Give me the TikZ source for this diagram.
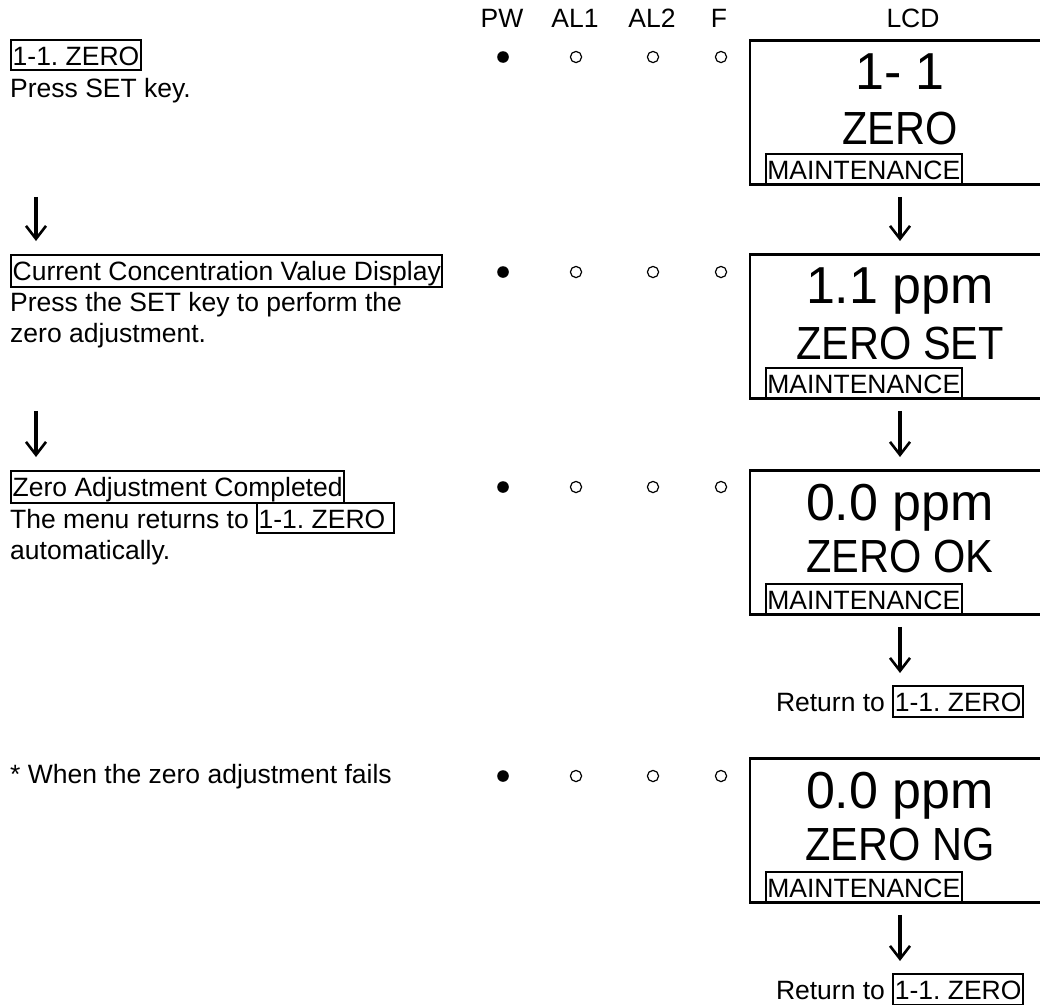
\documentclass[tikz,border=0pt]{standalone}
\usepackage{fontspec}
\setmainfont{Liberation Sans}
\usetikzlibrary{arrows.meta}

\newcommand\menubox[1]{{\setlength\fboxsep{0.5pt}\setlength\fboxrule{2pt}\fbox{\rule[-3.5pt]{0pt}{27.5pt}#1}}}

\tikzset{
  txt/.style={anchor=base west, inner sep=0pt, font=\fontsize{26.5}{32}\selectfont},
  lcdbox/.style={draw, line width=2.8pt, minimum width=300pt, minimum height=144pt, anchor=north, inner sep=0pt},
  lcdbig/.style={anchor=base, inner sep=0pt, font=\fontsize{52}{60}\selectfont},
  lcdmid/.style={anchor=base, inner sep=0pt, font=\fontsize{41.5}{48}\selectfont},
  flowarrow/.style={line width=3.2pt, -{Straight Barb[length=13pt,width=20pt,line width=2.6pt]}, shorten <=11pt, shorten >=12pt},
}

\begin{document}
\frenchspacing
\begin{tikzpicture}[x=1pt, y=-1pt]
    \useasboundingbox (0,0) rectangle (1040,1004);
    % column heads
    \foreach \x/\lbl in {502/PW, 575/AL1, 652/AL2, 719/F, 913/LCD}{
      \node[txt, anchor=base] (h\lbl) at (\x, 27) {\lbl};
    }
    % lamps
    \foreach \y in {57, 272, 487, 776}{
      \fill (503, \y) circle(5.8pt);
      \foreach \x in {576, 653, 721}{
        \draw[line width=1.2pt] (\x, \y) circle(5.6pt);
      }
    }
    % left column
    \node[txt] (zerohead) at (10, 65) {\menubox{1-1. ZERO}};
    \node[txt] (zerokey) at (10, 97) {Press SET key.};
    \node[txt] (curhead) at (10, 280) {\menubox{Current Concentration Value Display}};
    \node[txt] (curkey) at (10, 311) {Press the SET key to perform the};
    \node[txt] (curadj) at (10, 342) {zero adjustment.};
    \node[txt] (okhead) at (10, 496) {\menubox{Zero Adjustment Completed}};
    \node[txt] (okret) at (10, 528) {The menu returns to \menubox{1-1. ZERO\ }};
    \node[txt] (okauto) at (10, 559) {automatically.};
    \node[txt] (nghead) at (10, 783) {* When the zero adjustment fails};
    % LCD screens
    \node[lcdbox] (lcdzero) at (900, 39) {};
    \node[lcdbig] (lcdzeroa) at ([yshift=-50pt]lcdzero.north) {1- 1};
    \node[lcdmid] (lcdzerob) at ([yshift=-105pt]lcdzero.north) {\scalebox{1}[1.12]{ZERO}};
    \node[txt, anchor=south west] (lcdzeroc) at ([xshift=16pt]lcdzero.south west) {\menubox{MAINTENANCE}};

    \node[lcdbox] (lcdset) at (900, 253) {};
    \node[lcdbig] (lcdseta) at ([yshift=-50pt]lcdset.north) {1.1 ppm};
    \node[lcdmid] (lcdsetb) at ([yshift=-106pt]lcdset.north) {\scalebox{1}[1.12]{ZERO SET}};
    \node[txt, anchor=south west] (lcdsetc) at ([xshift=16pt]lcdset.south west) {\menubox{MAINTENANCE}};

    \node[lcdbox] (lcdok) at (900, 469) {};
    \node[lcdbig] (lcdoka) at ([yshift=-51pt]lcdok.north) {0.0 ppm};
    \node[lcdmid] (lcdokb) at ([yshift=-103pt]lcdok.north) {\scalebox{1}[1.12]{ZERO OK}};
    \node[txt, anchor=south west] (lcdokc) at ([xshift=16pt]lcdok.south west) {\menubox{MAINTENANCE}};

    \node[lcdbox] (lcdng) at (900, 757) {};
    \node[lcdbig] (lcdnga) at ([yshift=-51pt]lcdng.north) {0.0 ppm};
    \node[lcdmid] (lcdngb) at ([yshift=-103pt]lcdng.north) {\scalebox{1}[1.12]{ZERO NG}};
    \node[txt, anchor=south west] (lcdngc) at ([xshift=16pt]lcdng.south west) {\menubox{MAINTENANCE}};

    \node[txt, anchor=north] (retok) at (900, 685) {Return to \menubox{1-1. ZERO}};
    \node[txt, anchor=north] (retng) at (900, 973) {Return to \menubox{1-1. ZERO}};
    % arrows
    \draw[flowarrow] (lcdzero) -- (lcdset);
    \draw[flowarrow] (lcdset) -- (lcdok);
    \draw[flowarrow] (lcdok) -- (retok);
    \draw[flowarrow] (lcdng) -- (retng);
    \coordinate (lx) at (36, 0);
    \draw[flowarrow] (lcdzero.south -| lx) -- (lcdset.north -| lx);
    \draw[flowarrow] (lcdset.south -| lx) -- (lcdok.north -| lx);
\end{tikzpicture}
\end{document}
